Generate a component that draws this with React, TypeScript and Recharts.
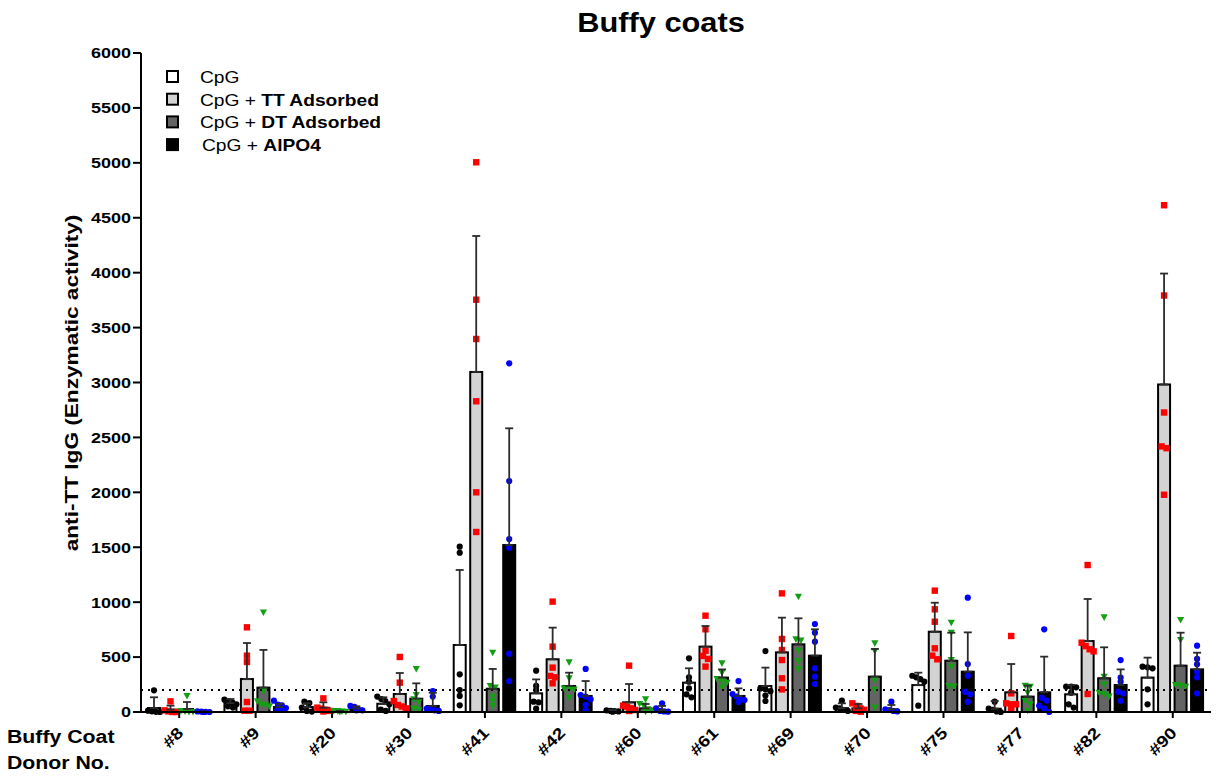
import React from 'react'
import { BarChart, Bar, XAxis, YAxis, ErrorBar, ReferenceLine, Legend } from 'recharts'

const donors = ['#8', '#9', '#20', '#30', '#41', '#42', '#60', '#61', '#69', '#70', '#75', '#77', '#82', '#90']

// bar heights (mean) and upward SD
const cpgMean = [36, 80, 45, 75, 610, 170, 8, 267, 237, 35, 245, 30, 161, 313]
const cpgSd = [98, 38, 35, 59, 683, 127, 10, 131, 167, 44, 113, 70, 85, 182]
const ttMean = [21, 300, 38, 164, 3096, 480, 88, 595, 543, 33, 731, 179, 646, 2982]
const ttSd = [37, 328, 50, 191, 1238, 288, 167, 188, 316, 40, 264, 258, 383, 1010]
const dtMean = [27, 222, 5, 121, 212, 237, 33, 313, 616, 322, 467, 140, 307, 422]
const dtSd = [64, 343, 5, 140, 180, 121, 40, 75, 237, 252, 255, 100, 282, 300]
const alpoMean = [3, 45, 31, 55, 1520, 146, 18, 146, 513, 24, 367, 179, 246, 388]
const alpoSd = [2, 30, 21, 120, 1063, 136, 37, 69, 240, 40, 358, 325, 142, 152]

// individual replicate values per donor
const cpgPoints = [
  [197, 12, 6, 2, 0], [112, 98, 85, 70, 52, 40], [94, 82, 40, 10, 4], [140, 118, 100, 70, 22, 10],
  [1505, 1450, 343, 200, 146, 61], [376, 237, 200, 94, 88, 30], [15, 10, 8, 5, 3],
  [489, 316, 276, 215, 161, 134], [555, 215, 206, 190, 150, 100], [103, 40, 33, 18, 10],
  [330, 316, 300, 276, 58], [94, 30, 20, 5, 0], [231, 231, 225, 176, 70, 40], [413, 407, 398, 206, 70],
]
const ttPoints = [
  [97, 15, 5, 0, 0], [771, 513, 455, 91, 12, 12], [124, 40, 30, 20, 10, 5], [501, 267, 100, 64, 50, 33],
  [5005, 3754, 3396, 2829, 2000, 1639], [1005, 595, 404, 328, 316, 261], [422, 58, 49, 33, 18, 9],
  [877, 753, 558, 510, 483, 413], [1080, 665, 565, 473, 307, 206], [79, 55, 33, 20, 10, 3],
  [1105, 935, 822, 580, 513, 480], [692, 170, 79, 70, 70, 27], [1338, 631, 600, 571, 552, 164],
  [4614, 3792, 2727, 2418, 2402, 1978],
]
const dtPoints = [
  [146, 10, 5, 2, 0], [907, 188, 97, 67, 67, 52], [10, 8, 5, 3, 0], [392, 155, 115, 94, 33, 18],
  [540, 237, 222, 140, 100, 55], [452, 307, 215, 209, 205, 130], [115, 73, 60, 24, 9, 3],
  [443, 358, 300, 282, 267, 225], [1050, 662, 650, 558, 464, 392], [625, 555, 290, 200, 42],
  [813, 722, 473, 413, 237, 231], [240, 231, 176, 100, 70, 12], [862, 322, 252, 176, 161, 140],
  [838, 656, 246, 240, 231],
]
const alpoPoints = [
  [5, 3, 2, 0, 0], [103, 67, 60, 36, 21, 21], [55, 48, 20, 15, 15], [191, 140, 30, 20, 15, 10],
  [3175, 2103, 1575, 1496, 531, 282], [392, 155, 140, 115, 64, 18], [79, 33, 10, 5, 3],
  [282, 164, 140, 118, 109, 90], [801, 722, 640, 398, 322, 255], [94, 25, 18, 9, 5],
  [1041, 437, 331, 185, 161, 94], [753, 130, 103, 58, 33, 0], [473, 313, 276, 185, 170, 103],
  [604, 483, 434, 367, 316, 170],
]

const Y_MAX = 6000
const yTicks = [0, 500, 1000, 1500, 2000, 2500, 3000, 3500, 4000, 4500, 5000, 5500, 6000]
const cutoff = 200

const FONT = '"Liberation Sans", Arial, sans-serif'
const SX = 1.2 // the source fonts are drawn wider than Arial

type MarkerKind = 'circle' | 'square' | 'triangle'

interface SeriesDef {
  key: string
  name: string
  bold: string
  fill: string
  marker: MarkerKind
  markerColor: string
}

const series: SeriesDef[] = [
  { key: 'cpg', name: 'CpG', bold: '', fill: '#ffffff', marker: 'circle', markerColor: '#000000' },
  { key: 'tt', name: 'CpG + ', bold: 'TT Adsorbed', fill: '#d3d3d3', marker: 'square', markerColor: '#ff0000' },
  { key: 'dt', name: 'CpG + ', bold: 'DT Adsorbed', fill: '#646464', marker: 'triangle', markerColor: '#12a012' },
  { key: 'alpo', name: 'CpG + ', bold: 'AlPO4', fill: '#000000', marker: 'circle', markerColor: '#0000ff' },
]

const data = donors.map((donor, i) => ({
  donor,
  cpg: cpgMean[i], cpgErr: [0, cpgSd[i]], cpgPts: cpgPoints[i],
  tt: ttMean[i], ttErr: [0, ttSd[i]], ttPts: ttPoints[i],
  dt: dtMean[i], dtErr: [0, dtSd[i]], dtPts: dtPoints[i],
  alpo: alpoMean[i], alpoErr: [0, alpoSd[i]], alpoPts: alpoPoints[i],
}))

function Marker({ kind, color, x, y }: { kind: MarkerKind; color: string; x: number; y: number }) {
  if (kind === 'square') return <rect x={x - 3.2} y={y - 3.2} width={6.4} height={6.4} fill={color} />
  if (kind === 'triangle')
    return <polygon points={`${x - 3.6},${y - 3} ${x + 3.6},${y - 3} ${x},${y + 3.6}`} fill={color} />
  return <circle cx={x} cy={y} r={3.1} fill={color} />
}

// bar + its replicate points, placed with the bar's own y scale
function makeShape(s: SeriesDef) {
  return (props: any) => {
    const { x, y, width, height, background, payload } = props
    const pts: number[] = payload[`${s.key}Pts`] ?? []
    const base = background ? background.y + background.height : y + height
    const span = background ? background.height : (height / (payload[s.key] || 1)) * Y_MAX
    const toPx = (v: number) => base - (v / Y_MAX) * span
    const cx = x + width / 2
    const ys = pts.map(toPx).sort((a, b) => a - b)
    const placed: { x: number; y: number }[] = []
    let i = 0
    while (i < ys.length) {
      let j = i
      while (j + 1 < ys.length && ys[j + 1] - ys[j] < 4 && j - i < 3) j++
      const n = j - i + 1
      const step = n > 1 ? Math.min(5, 12 / (n - 1)) : 0
      for (let k = 0; k < n; k++) placed.push({ x: cx + (k - (n - 1) / 2) * step, y: ys[i + k] })
      i = j + 1
    }
    return (
      <g>
        <rect x={x} y={y} width={width} height={Math.max(height, 0)} fill={s.fill} stroke="#000" strokeWidth={2} />
        {placed.map((p, k) => (
          <Marker key={k} kind={s.marker} color={s.markerColor} x={p.x} y={p.y} />
        ))}
      </g>
    )
  }
}

function YTick({ x, y, payload }: any) {
  return (
    <text transform={`translate(${x},${y}) scale(${SX},1)`} textAnchor="end" dy="0.36em"
      fontFamily={FONT} fontWeight="bold" fontSize={15} fill="#000">
      {payload.value}
    </text>
  )
}

function XTick({ x, y, payload }: any) {
  return (
    <text transform={`translate(${x + 5},${y + 14}) rotate(-45) scale(${SX},1)`} textAnchor="end"
      fontFamily={FONT} fontWeight="bold" fontSize={16} fill="#000">
      {payload.value}
    </text>
  )
}

function LegendBox() {
  return (
    <svg width={300} height={100} style={{ display: 'block' }}>
      {series.map((s, i) => {
        const cy = 13 + i * 22.7
        return (
          <g key={s.key}>
            <rect x={8} y={cy - 6} width={11} height={11} fill={s.fill} stroke="#000" strokeWidth={2} />
            <text transform={`translate(${i === 3 ? 43 : 41},${cy + 6}) scale(${SX},1)`}
              fontFamily={FONT} fontSize={16} fill="#000">
              {s.name}
              {s.bold && <tspan fontWeight="bold">{s.bold}</tspan>}
            </text>
          </g>
        )
      })}
    </svg>
  )
}

export default function App() {
  return (
    <div style={{ position: 'absolute', left: 0, top: 0, width: 1218, height: 779, background: '#fff' }}>
      <BarChart width={1218} height={779} data={data} barSize={12} barGap={4.5}
        margin={{ top: 53, right: 7, bottom: 7, left: 61 }}>
        <ReferenceLine y={cutoff} stroke="#000" strokeWidth={2} strokeDasharray="2 5" />
        <XAxis dataKey="donor" interval={0} height={60} tick={<XTick />} tickSize={6}
          axisLine={{ stroke: '#000', strokeWidth: 2 }} tickLine={{ stroke: '#000', strokeWidth: 2 }} />
        <YAxis domain={[0, Y_MAX]} ticks={yTicks} width={80} tick={<YTick />} tickSize={8}
          axisLine={{ stroke: '#000', strokeWidth: 2 }} tickLine={{ stroke: '#000', strokeWidth: 2 }} />
        <Legend layout="vertical" align="center" verticalAlign="middle"
          wrapperStyle={{ left: 159, top: 64, width: 300, height: 100 }}
          content={() => <LegendBox />} />
        {series.map((s) => (
          <Bar key={s.key} dataKey={s.key} name={s.name + s.bold} fill={s.fill}
            shape={makeShape(s)} isAnimationActive={false}>
            <ErrorBar dataKey={`${s.key}Err`} width={4} stroke="#2b2b2b" strokeWidth={1.8}
              direction="y" isAnimationActive={false} />
          </Bar>
        ))}
      </BarChart>
      <svg width={1218} height={779} style={{ position: 'absolute', left: 0, top: 0, pointerEvents: 'none' }}>
        <text transform={`translate(661,32) scale(1.14,1)`} textAnchor="middle" fontFamily={FONT}
          fontWeight="bold" fontSize={27} fill="#000">Buffy coats</text>
        <text transform={`translate(78,383) rotate(-90) scale(1.19,1)`} textAnchor="middle" fontFamily={FONT}
          fontWeight="bold" fontSize={19} fill="#000">anti-TT IgG (Enzymatic activity)</text>
        <text transform={`translate(7,743) scale(1.12,1)`} fontFamily={FONT} fontWeight="bold"
          fontSize={19} fill="#000">Buffy Coat</text>
        <text transform={`translate(7,769) scale(1.12,1)`} fontFamily={FONT} fontWeight="bold"
          fontSize={19} fill="#000">Donor No.</text>
      </svg>
    </div>
  )
}
